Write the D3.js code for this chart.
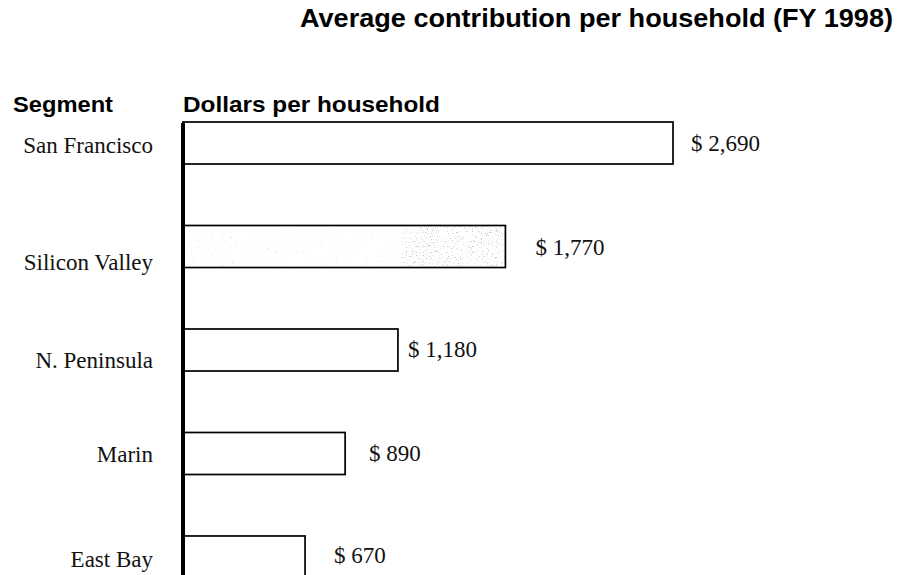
<!DOCTYPE html>
<html>
<head>
<meta charset="utf-8">
<script src="https://cdn.jsdelivr.net/npm/d3@7"></script>
<style>
  html, body { margin: 0; padding: 0; background: #fff; }
  svg { display: block; }
</style>
</head>
<body>
<div id="chart"></div>
<script>
// Average contribution per household by segment, FY 1998
const segments = ["San Francisco", "Silicon Valley", "N. Peninsula", "Marin", "East Bay"];
const dollars = [2690, 1770, 1180, 890, 670];
const valueLabels = ["$ 2,690", "$ 1,770", "$ 1,180", "$ 890", "$ 670"];
const highlighted = ["Silicon Valley"];

// Per-row hand placement of the annotation text (typeset offsets)
const valueGap = [18, 30, 10, 24, 29];
const valueDy = [29, 30, 28, 29, 27];
const nameDy = [31, 45, 39, 30, 31];

const W = 898, H = 575;
const svg = d3.select("#chart").append("svg")
  .attr("width", W).attr("height", H);

const x = d3.scaleLinear().domain([0, 2690]).range([183, 673]);
const y = d3.scaleBand().domain(segments).range([122, 578]).paddingInner(0.594).paddingOuter(0);

// Speckled grey texture for the highlighted bar
const defs = svg.append("defs");
function speckle(id, freq, cut, grey) {
  const f = defs.append("filter").attr("id", id)
    .attr("x", 0).attr("y", 0).attr("width", 1).attr("height", 1);
  f.append("feTurbulence").attr("type", "fractalNoise")
    .attr("baseFrequency", freq).attr("numOctaves", 2).attr("seed", 7).attr("result", "n");
  f.append("feColorMatrix").attr("in", "n").attr("type", "matrix")
    .attr("values", `0 0 0 0 ${grey}  0 0 0 0 ${grey}  0 0 0 0 ${grey}  6 0 0 0 ${-cut}`)
    .attr("result", "s");
  f.append("feComposite").attr("in", "s").attr("in2", "SourceAlpha").attr("operator", "in");
}
speckle("speckleLight", 0.8, 4.3, 0.6);
speckle("speckleDense", 0.8, 3.6, 0.55);

const sansBold = "'Liberation Sans', Arial, Helvetica, sans-serif";
const serif = "'Liberation Serif', 'Times New Roman', serif";

// Title
svg.append("text")
  .attr("x", 300).attr("y", 27)
  .attr("font-family", sansBold).attr("font-weight", "bold").attr("font-size", 25)
  .attr("textLength", 593).attr("lengthAdjust", "spacingAndGlyphs")
  .text("Average contribution per household (FY 1998)");

// Column headers
svg.append("text")
  .attr("x", 13).attr("y", 112)
  .attr("font-family", sansBold).attr("font-weight", "bold").attr("font-size", 21.5)
  .attr("textLength", 100).attr("lengthAdjust", "spacingAndGlyphs")
  .text("Segment");
svg.append("text")
  .attr("x", 183).attr("y", 112)
  .attr("font-family", sansBold).attr("font-weight", "bold").attr("font-size", 21.5)
  .attr("textLength", 257).attr("lengthAdjust", "spacingAndGlyphs")
  .text("Dollars per household");

const rows = segments.map((s, i) => ({ name: s, value: dollars[i], label: valueLabels[i], i }));

const g = svg.append("g");

// Bars
g.selectAll("rect.bar").data(rows).join("rect")
  .attr("class", "bar")
  .attr("x", x(0))
  .attr("y", d => y(d.name))
  .attr("width", d => x(d.value) - x(0))
  .attr("height", y.bandwidth())
  .attr("fill", "#fff");

// Texture on highlighted bars
const hi = rows.filter(d => highlighted.includes(d.name));
g.selectAll("rect.tex1").data(hi).join("rect")
  .attr("class", "tex1")
  .attr("x", x(0)).attr("y", d => y(d.name))
  .attr("width", d => x(d.value) - x(0)).attr("height", y.bandwidth())
  .attr("fill", "#000").attr("filter", "url(#speckleLight)");
g.selectAll("rect.tex2").data(hi).join("rect")
  .attr("class", "tex2")
  .attr("x", d => x(d.value * 0.68)).attr("y", d => y(d.name))
  .attr("width", d => x(d.value) - x(d.value * 0.68)).attr("height", y.bandwidth())
  .attr("fill", "#000").attr("filter", "url(#speckleDense)");

// Bar outlines
g.selectAll("rect.outline").data(rows).join("rect")
  .attr("class", "outline")
  .attr("x", x(0))
  .attr("y", d => y(d.name))
  .attr("width", d => x(d.value) - x(0))
  .attr("height", y.bandwidth())
  .attr("fill", "none").attr("stroke", "#000").attr("stroke-width", 1.7);

// Value labels
g.selectAll("text.value").data(rows).join("text")
  .attr("class", "value")
  .attr("x", d => x(d.value) + valueGap[d.i])
  .attr("y", d => y(d.name) + valueDy[d.i])
  .attr("font-family", serif).attr("font-size", 23).attr("fill", "#111")
  .text(d => d.label);

// Segment names
g.selectAll("text.name").data(rows).join("text")
  .attr("class", "name")
  .attr("x", 153)
  .attr("y", d => y(d.name) + nameDy[d.i])
  .attr("text-anchor", "end")
  .attr("font-family", serif).attr("font-size", 23).attr("fill", "#111")
  .text(d => d.name);

// Baseline (zero) axis
svg.append("line")
  .attr("x1", x(0)).attr("x2", x(0))
  .attr("y1", 123).attr("y2", H)
  .attr("stroke", "#000").attr("stroke-width", 4);
</script>
</body>
</html>
